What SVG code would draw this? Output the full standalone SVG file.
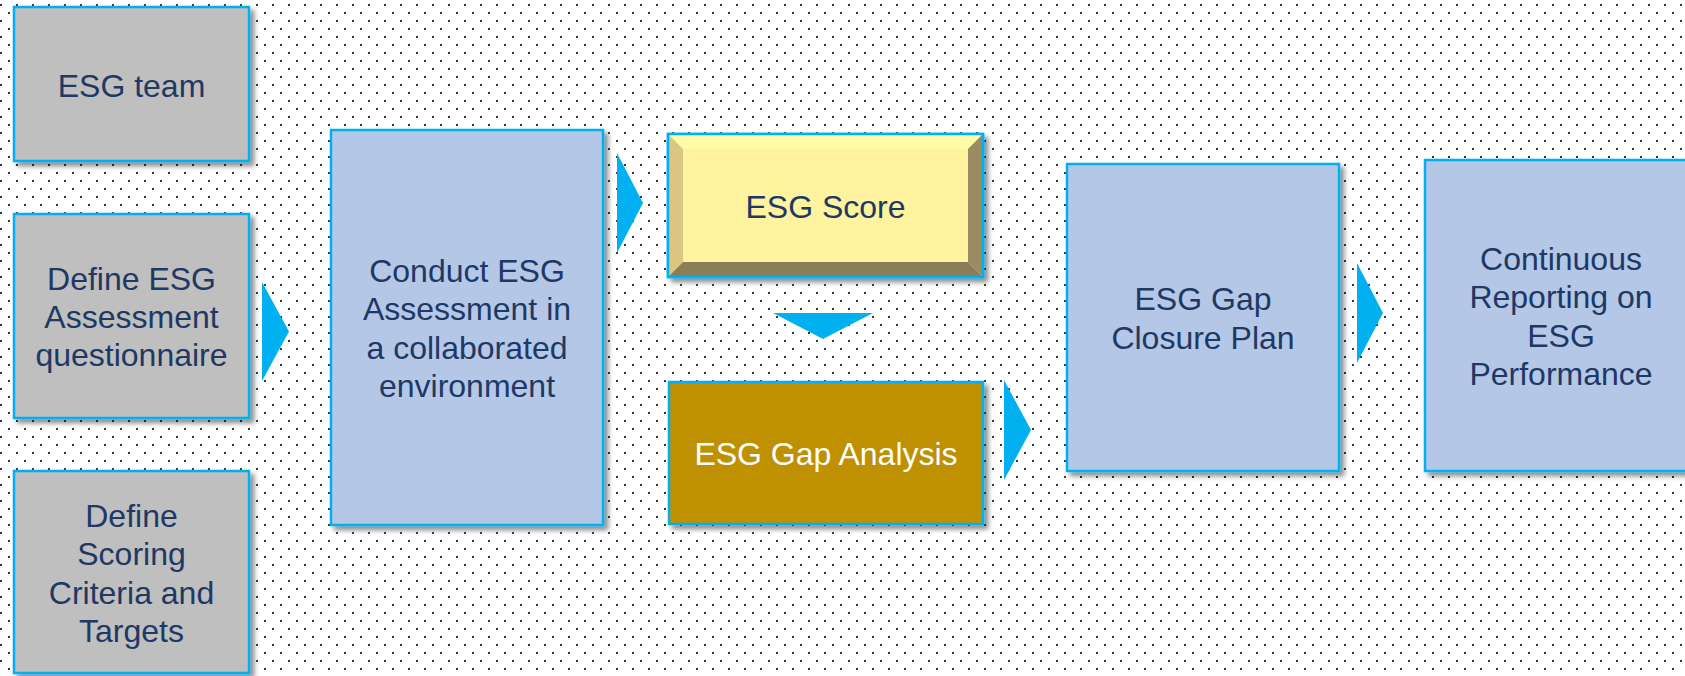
<svg xmlns="http://www.w3.org/2000/svg" width="1685" height="676" viewBox="0 0 1685 676">
<defs>
<pattern id="dots" x="0" y="0" width="16" height="16" patternUnits="userSpaceOnUse">
<rect x="0" y="4" width="2" height="2" fill="#333844"/>
<rect x="8" y="12" width="2" height="2" fill="#333844"/>
</pattern>
<filter id="sh" x="-10%" y="-10%" width="125%" height="125%">
<feDropShadow dx="4" dy="4" stdDeviation="2.5" flood-color="#000" flood-opacity="0.45"/>
</filter>
<style>
.box{stroke:#00B0F0;stroke-width:2.5;filter:url(#sh)}
.gray{fill:#BFBFBF}
.blue{fill:#B4C7E7}
.gold{fill:#BF9000}
.t{font-family:"Liberation Sans",Arial,sans-serif;font-size:32px;fill:#203864;text-anchor:middle}
.w{fill:#FFFFFF}
.arrow{fill:#00B0F0}
</style>
</defs>
<rect width="1685" height="676" fill="#FFFFFF"/>
<rect width="1685" height="676" fill="url(#dots)"/>

<g id="connectors">
<polygon class="arrow" points="262,282 289,331.5 262,381"/>
<polygon class="arrow" points="617,153 643,203 617,253"/>
<polygon class="arrow" points="773,313 873,313 823,339"/>
<polygon class="arrow" points="1004,380 1031,430 1004,480"/>
<polygon class="arrow" points="1357,263 1383,313 1357,363"/>
</g>

<g id="esg-team">
<rect class="box gray" x="14" y="7" width="235" height="154"/>
<text class="t" x="131.5" y="96.5">ESG team</text>
</g>

<g id="define-questionnaire">
<rect class="box gray" x="14" y="214" width="235" height="204"/>
<text class="t" x="131.5" y="289.6">Define ESG</text>
<text class="t" x="131.5" y="328">Assessment</text>
<text class="t" x="131.5" y="366.4">questionnaire</text>
</g>

<g id="define-scoring">
<rect class="box gray" x="14" y="471" width="235" height="202"/>
<text class="t" x="131.5" y="526.9">Define</text>
<text class="t" x="131.5" y="565.3">Scoring</text>
<text class="t" x="131.5" y="603.7">Criteria and</text>
<text class="t" x="131.5" y="642.1">Targets</text>
</g>

<g id="conduct">
<rect class="box blue" x="331" y="130" width="272" height="395"/>
<text class="t" x="467" y="281.9">Conduct ESG</text>
<text class="t" x="467" y="320.3">Assessment in</text>
<text class="t" x="467" y="358.7">a collaborated</text>
<text class="t" x="467" y="397.1">environment</text>
</g>

<g id="esg-score">
<rect class="box" x="668" y="134" width="315" height="143" fill="#FFF3A0"/>
<polygon points="669,135 982,135 968,149 683,149" fill="#FFFBA6"/>
<polygon points="669,135 683,149 683,262 669,276" fill="#DCC684"/>
<polygon points="669,276 683,262 968,262 982,276" fill="#8B7D56"/>
<polygon points="982,135 982,276 968,262 968,149" fill="#9A8B60"/>
<rect x="668" y="134" width="315" height="143" fill="none" stroke="#00B0F0" stroke-width="2.5"/>
<text class="t" x="825.5" y="217.5">ESG Score</text>
</g>

<g id="gap-analysis">
<rect class="box gold" x="669" y="382" width="314" height="142"/>
<text class="t w" x="826" y="465">ESG Gap Analysis</text>
</g>

<g id="gap-closure">
<rect class="box blue" x="1067" y="164" width="272" height="307"/>
<text class="t" x="1203" y="310.3">ESG Gap</text>
<text class="t" x="1203" y="348.7">Closure Plan</text>
</g>

<g id="continuous-reporting">
<rect class="box blue" x="1425" y="160" width="272" height="311"/>
<text class="t" x="1561" y="269.9">Continuous</text>
<text class="t" x="1561" y="308.3">Reporting on</text>
<text class="t" x="1561" y="346.7">ESG</text>
<text class="t" x="1561" y="385.1">Performance</text>
</g>
</svg>
